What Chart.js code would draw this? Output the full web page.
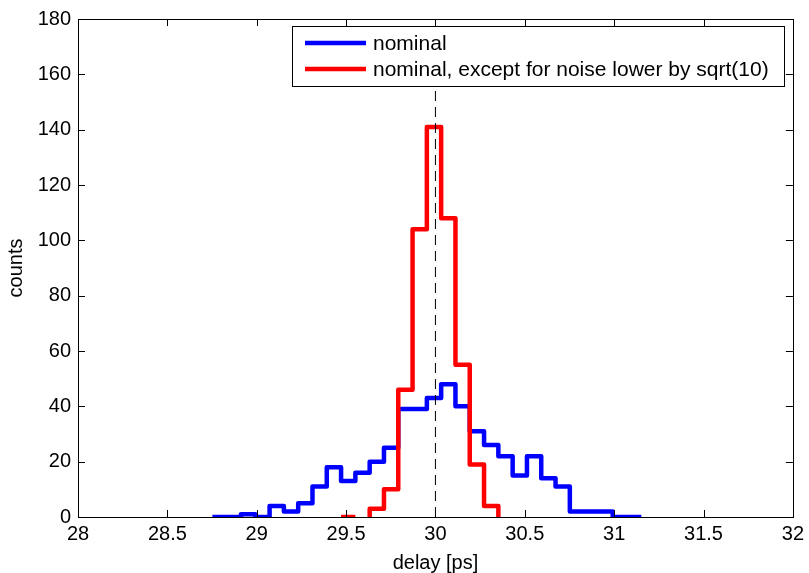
<!DOCTYPE html>
<html>
<head>
<meta charset="utf-8">
<script src="https://cdn.jsdelivr.net/npm/chart.js@4"></script>
<style>
  body { margin: 0; background: #fff; }
  #wrap { width: 809px; height: 573px; position: relative; }
</style>
</head>
<body>
<div id="wrap"><canvas id="chart"></canvas></div>
<script>
// histogram bin edges [ps], one more than the number of bins
const binEdges = [28.752, 28.832, 28.912, 28.992, 29.072, 29.152, 29.232, 29.312, 29.392, 29.472,
  29.552, 29.632, 29.712, 29.792, 29.872, 29.952, 30.032, 30.112, 30.192, 30.272,
  30.352, 30.432, 30.512, 30.592, 30.672, 30.752, 30.832, 30.912, 30.992, 31.072, 31.152]

const nominalCounts = [0, 0, 1, 0, 4, 2, 5, 11, 18, 13,
  16, 20, 25, 39, 39, 43, 48, 40, 31, 26,
  22, 15, 22, 14, 11, 2, 2, 2, 0, 0]

// null = bin not drawn
const lowNoiseCounts = [null, null, null, null, null, null, null, null, null, 0,
  null, 3, 10, 46, 104, 141, 108, 55, 19, 4,
  null, null, null, null, null, null, null, null, null, null]

const seriesLabels = ['nominal', 'nominal, except for noise lower by sqrt(10)']
const seriesColors = ['#0000ff', '#ff0000']
const markerDelay = 30
const yTicks = { min: 0, max: 180, step: 20 }
const xTicks = { min: 28, max: 32, step: 0.5 }

const FONT = '"Liberation Sans", Arial, Helvetica, sans-serif'

// turn counts into stair points: each run starts and ends on zero
function stairs(edges, counts) {
  const pts = []
  let inRun = false
  for (let i = 0; i < counts.length; i++) {
    const c = counts[i]
    if (c === null) {
      if (inRun) {
        pts.push({ x: edges[i], y: counts[i - 1] }, { x: edges[i], y: 0 }, { x: edges[i], y: null })
        inRun = false
      }
      continue
    }
    if (!inRun) { pts.push({ x: edges[i], y: 0 }); inRun = true }
    pts.push({ x: edges[i], y: c })
  }
  if (inRun) {
    const n = counts.length
    pts.push({ x: edges[n], y: counts[n - 1] }, { x: edges[n], y: 0 })
  }
  return pts
}

const boxPlugin = {
  id: 'box',
  afterDraw(chart) {
    const { ctx, chartArea: a, scales: { x, y } } = chart
    ctx.save()
    ctx.strokeStyle = '#000'
    ctx.lineWidth = 1
    ctx.beginPath()
    const tl = 7
    x.ticks.forEach(t => {
      const px = Math.round(x.getPixelForValue(t.value)) + 0.5
      ctx.moveTo(px, a.bottom); ctx.lineTo(px, a.bottom - tl)
      ctx.moveTo(px, a.top); ctx.lineTo(px, a.top + tl)
    })
    y.ticks.forEach(t => {
      const py = Math.round(y.getPixelForValue(t.value)) + 0.5
      ctx.moveTo(a.left, py); ctx.lineTo(a.left + tl, py)
      ctx.moveTo(a.right, py); ctx.lineTo(a.right - tl, py)
    })
    ctx.stroke()
    ctx.strokeRect(Math.round(a.left) + 0.5, Math.round(a.top) + 0.5,
      Math.round(a.right - a.left), Math.round(a.bottom - a.top))

    // legend box
    const lx = 292, ly = 26, lw = 492, lh = 60
    ctx.fillStyle = '#fff'
    ctx.fillRect(lx, ly, lw, lh)
    ctx.strokeRect(lx + 0.5, ly + 0.5, lw, lh)
    ctx.font = '21px ' + FONT
    ctx.textBaseline = 'middle'
    seriesLabels.forEach((lab, i) => {
      const rowY = ly + 17 + i * 26
      ctx.strokeStyle = seriesColors[i]
      ctx.lineWidth = 4.5
      ctx.beginPath()
      ctx.moveTo(305, rowY); ctx.lineTo(366, rowY)
      ctx.stroke()
      ctx.fillStyle = '#000'
      ctx.fillText(lab, 373, rowY + 1)
    })
    ctx.restore()
  }
}

new Chart(document.getElementById('chart'), {
  type: 'line',
  data: {
    datasets: [
      {
        label: 'marker',
        data: [{ x: markerDelay, y: yTicks.min }, { x: markerDelay, y: yTicks.max }],
        borderColor: '#000', borderWidth: 1, borderDash: [10, 6], order: 0
      },
      {
        label: seriesLabels[1],
        data: stairs(binEdges, lowNoiseCounts),
        borderColor: seriesColors[1], borderWidth: 4.5, stepped: true, order: 1
      },
      {
        label: seriesLabels[0],
        data: stairs(binEdges, nominalCounts),
        borderColor: seriesColors[0], borderWidth: 4.5, stepped: true, order: 2
      }
    ]
  },
  options: {
    responsive: true,
    maintainAspectRatio: false,
    animation: false,
    spanGaps: false,
    layout: { padding: { top: 15, right: 15, left: 0, bottom: 0 } },
    elements: { point: { radius: 0 }, line: { borderJoinStyle: 'round', tension: 0 } },
    plugins: { legend: { display: false }, tooltip: { enabled: false } },
    scales: {
      x: {
        type: 'linear', min: xTicks.min, max: xTicks.max,
        grid: { display: false, drawTicks: false }, border: { display: false },
        ticks: { stepSize: xTicks.step, color: '#000', padding: 5, font: { family: FONT, size: 20 },
          callback: v => String(v) },
        title: { display: true, text: 'delay [ps]', color: '#000', padding: 0,
          font: { family: FONT, size: 20, lineHeight: 1 } },
        afterFit: s => { s.height = 56 }
      },
      y: {
        min: yTicks.min, max: yTicks.max,
        grid: { display: false, drawTicks: false }, border: { display: false },
        ticks: { stepSize: yTicks.step, color: '#000', padding: 7, font: { family: FONT, size: 20 } },
        title: { display: true, text: 'counts', color: '#000', padding: { top: 4, bottom: 0 },
          font: { family: FONT, size: 20, lineHeight: 1.2 } },
        afterFit: s => { s.width = 78 }
      }
    }
  },
  plugins: [boxPlugin]
})
</script>
</body>
</html>
